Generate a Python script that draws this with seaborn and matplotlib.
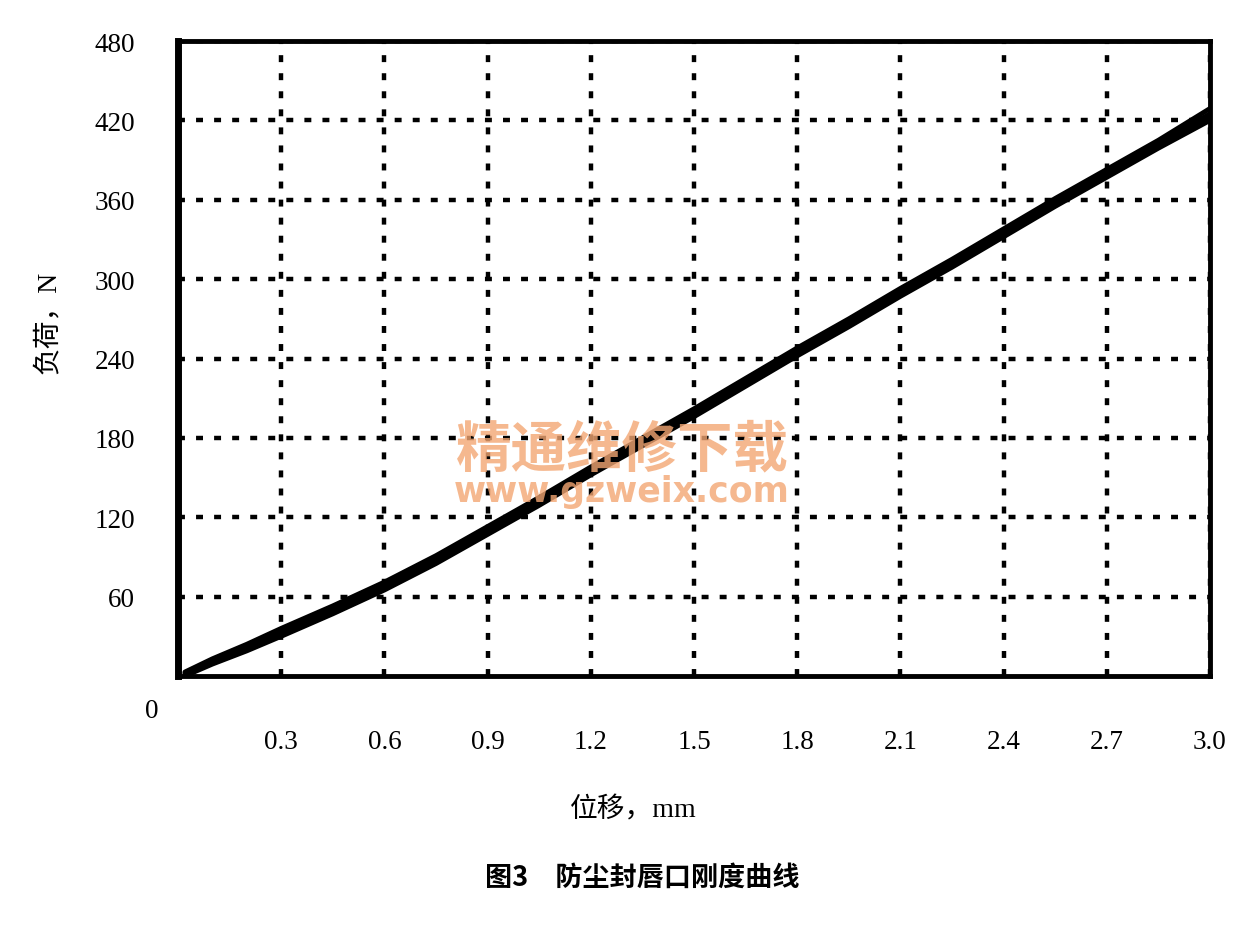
import numpy as np
import pandas as pd
import matplotlib.pyplot as plt
import seaborn as sns
from matplotlib.ticker import MultipleLocator

# displacement (mm) sampled along the curve
disp_mm = [0.02, 0.1, 0.2, 0.3, 0.45, 0.6, 0.75, 0.9, 1.05, 1.2, 1.35,
           1.5, 1.65, 1.8, 1.95, 2.1, 2.25, 2.4, 2.55, 2.7, 2.85, 3.0]

# load (N), two loading/unloading cycles
load_c1_up = [0, 9, 19, 30, 47, 65, 85, 107, 129, 152, 174,
              196, 219, 242, 264, 287, 309, 332, 355, 377, 399, 420]
load_c1_down = [2, 12, 22, 34, 51, 69, 89, 111, 133, 156, 178,
                200, 223, 246, 268, 291, 313, 336, 359, 381, 403, 425]
load_c2_up = [1, 10, 21, 32, 49, 66, 87, 108, 131, 153, 176,
              197, 221, 243, 266, 288, 311, 333, 357, 378, 401, 423]
load_c2_down = [3, 13, 24, 36, 53, 71, 91, 113, 135, 158, 180,
                202, 225, 248, 270, 293, 315, 338, 361, 383, 405, 429]

x_ticks = [0.3, 0.6, 0.9, 1.2, 1.5, 1.8, 2.1, 2.4, 2.7, 3.0]
y_ticks = [60, 120, 180, 240, 300, 360, 420, 480]

sns.set_style("white")
plt.rcParams["font.family"] = ["Liberation Serif", "Noto Sans CJK SC"]
plt.rcParams["lines.scale_dashes"] = False
plt.rcParams["text.color"] = "black"

fig = plt.figure(figsize=(12.46, 9.28), dpi=100)
ax = fig.add_axes([0.1429, 0.2705, 0.8282, 0.6842])

curves = {"c1_up": load_c1_up, "c1_down": load_c1_down,
          "c2_up": load_c2_up, "c2_down": load_c2_down}
for name, vals in curves.items():
    df = pd.DataFrame({"disp": disp_mm, "load": vals})
    sns.lineplot(data=df, x="disp", y="load", ax=ax, color="black",
                 linewidth=3.5, sort=False, estimator=None, zorder=3)

ax.set_xlim(0, 3.0)
ax.set_ylim(0, 480)
ax.set_xticks(x_ticks)
ax.set_xticklabels([f"{v:.1f}" for v in x_ticks])
ax.set_yticks(y_ticks)
ax.set_yticklabels([str(v) for v in y_ticks])
ax.xaxis.set_minor_locator(MultipleLocator(0.075))
ax.yaxis.set_minor_locator(MultipleLocator(15))

ax.tick_params(axis="both", which="major", direction="inout", length=10,
               width=3, color="black", labelsize=19.5, labelcolor="black")
ax.tick_params(axis="both", which="minor", direction="inout", length=7,
               width=2.5, color="black")
ax.tick_params(axis="x", which="major", pad=33)
ax.tick_params(axis="y", which="major", pad=26)

ax.grid(True, which="major", color="black", linewidth=3.2,
        linestyle=(0, (5, 8)))
for side, spine in ax.spines.items():
    spine.set_visible(True)
    spine.set_color("black")
    spine.set_linewidth(3.5)
ax.spines["left"].set_linewidth(5)

ax.set_xlabel("")
ax.set_ylabel("")
fig.text(152 / 1246, 1 - 712 / 928, "0", ha="center", va="center",
         fontsize=19.5)
fig.text(48 / 1246, 1 - 322 / 928, "负荷，N", rotation=90, ha="center",
         va="center", fontsize=20)
fig.text(633 / 1246, 1 - 810 / 928, "位移，mm", ha="center", va="center",
         fontsize=20)
fig.text(642 / 1246, 1 - 878 / 928, "图3\u3000防尘封唇口刚度曲线",
         ha="center", va="center", fontsize=19.5, fontweight="bold",
         family=["Noto Sans CJK SC", "DejaVu Sans"])

# watermark
fig.text(622 / 1246, 1 - 450 / 928, "精通维修下载", ha="center", va="center",
         fontsize=40, fontweight="bold", color="#F3A673", alpha=0.8,
         family=["Noto Sans CJK SC"], zorder=0)
fig.text(622 / 1246, 1 - 492 / 928, "www.gzweix.com", ha="center",
         va="center", fontsize=25, fontweight="bold", color="#F3A673",
         alpha=0.8, family=["DejaVu Sans"], zorder=0)

fig.savefig("out.png", dpi=100)
